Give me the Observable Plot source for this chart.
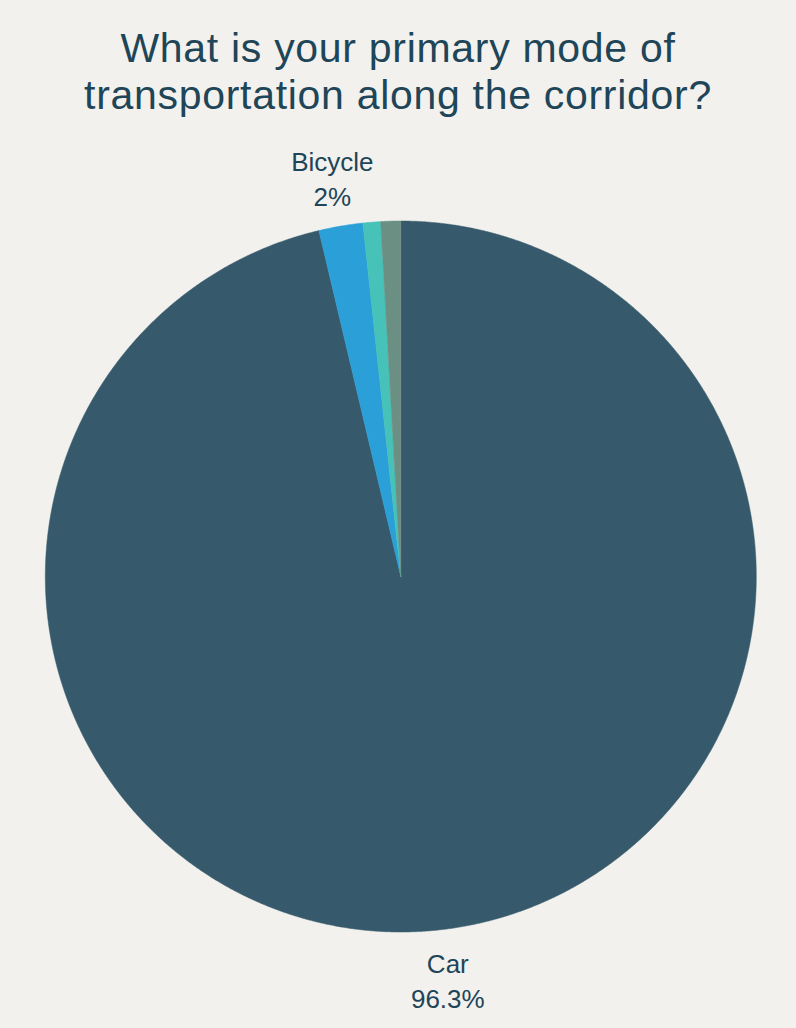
<!DOCTYPE html>
<html>
<head>
<meta charset="utf-8">
<script src="https://cdn.jsdelivr.net/npm/d3@7"></script>
<script src="https://cdn.jsdelivr.net/npm/@observablehq/plot@0.6"></script>
<style>
  html, body { margin: 0; padding: 0; background: #f2f1ed; }
  body { width: 796px; height: 1028px; overflow: hidden; font-family: "Liberation Sans", Arial, sans-serif; }
  #title { height: 130px; box-sizing: border-box; padding-top: 25px; text-align: center; color: #1e4558;
           font-size: 41px; line-height: 47px; letter-spacing: 0.7px; font-family: "Liberation Sans", Arial, sans-serif; }
  #chart svg { display: block; }
</style>
</head>
<body>
<div id="title">What is your primary mode of<br>transportation along the corridor?</div>
<div id="chart"></div>
<script>
// Data
const modes = ["Car", "Bicycle", "Walk", "Other"];
const shares = [96.3, 2, 0.8, 0.9];
const showLabel = [true, true, false, false];
const labels = ["Car\n96.3%", "Bicycle\n2%", "", ""];
const colors = ["#365a6b", "#2b9fd8", "#46c2b8", "#6b8f82"];

const W = 796, H = 898;
const R = 355.5;            // pie radius in px
const cx = 400.3, cy = 446; // pie centre in svg px

const data = modes.map((m, i) => ({mode: m, value: shares[i], label: labels[i], show: showLabel[i]}));
const arcs = d3.pie().sort(null).value(d => d.value)(data);

// polygon points (unit circle, clockwise from 12 o'clock)
const pts = [];
for (const a of arcs) {
  const n = Math.max(2, Math.ceil((a.endAngle - a.startAngle) / 0.004));
  pts.push({mode: a.data.mode, x: 0, y: 0});
  for (let k = 0; k <= n; k++) {
    const t = a.startAngle + (a.endAngle - a.startAngle) * k / n;
    pts.push({mode: a.data.mode, x: Math.sin(t), y: Math.cos(t)});
  }
  pts.push({mode: a.data.mode, x: 0, y: 0});
}

const labelR = 1.14;
const labs = arcs.filter(a => a.data.show).map(a => {
  const t = (a.startAngle + a.endAngle) / 2;
  return {label: a.data.label, x: Math.sin(t) * labelR, y: Math.cos(t) * labelR};
});

const plot = Plot.plot({
  width: W, height: H,
  margin: 0,
  style: {background: "transparent", fontFamily: "Liberation Sans, Arial, sans-serif"},
  x: {domain: [-cx / R, (W - cx) / R], axis: null},
  y: {domain: [-(H - cy) / R, cy / R], axis: null},
  color: {domain: modes, range: colors},
  marks: [
    Plot.line(pts, {x: "x", y: "y", z: "mode", fill: "mode", stroke: "mode", strokeWidth: 0.5, curve: "linear"}),
    Plot.text(labs, {x: "x", y: "y", text: "label", fill: "#1e4558", fontSize: 26, lineHeight: 1.35, textAnchor: "middle", lineAnchor: "middle"})
  ]
});
document.getElementById("chart").appendChild(plot);
</script>
</body>
</html>
